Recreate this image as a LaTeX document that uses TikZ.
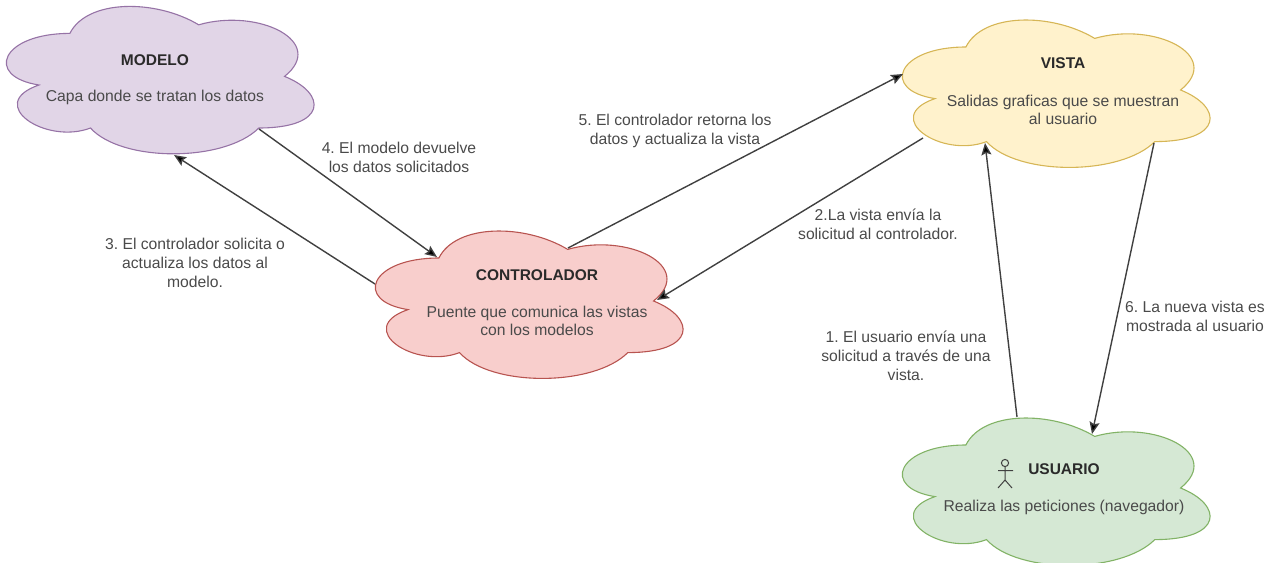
\documentclass[tikz,border=0pt]{standalone}
\usepackage{fontspec}
\setmainfont{Liberation Sans}
\frenchspacing
\usetikzlibrary{arrows.meta}
\definecolor{txt}{HTML}{2A2A2A}
\definecolor{morado}{HTML}{E1D5E7}
\definecolor{moradol}{HTML}{9673A6}
\definecolor{rojo}{HTML}{F8CECC}
\definecolor{rojol}{HTML}{B85450}
\definecolor{amarillo}{HTML}{FFF2CC}
\definecolor{amarillol}{HTML}{D6B656}
\definecolor{verde}{HTML}{D5E8D4}
\definecolor{verdel}{HTML}{82B366}
\newcommand{\nubeforma}[4]{%
  \begin{scope}[shift={(#1,#2)},x=343.5pt,y=-172pt]
    \filldraw[fill=#3,draw=#4,line width=1.1pt]
      (0.25,0.25) .. controls (0.05,0.25) and (0,0.5) .. (0.16,0.55)
      .. controls (0,0.66) and (0.18,0.9) .. (0.31,0.8)
      .. controls (0.4,1) and (0.7,1) .. (0.8,0.8)
      .. controls (1,0.8) and (1,0.6) .. (0.875,0.5)
      .. controls (1,0.3) and (0.8,0.1) .. (0.625,0.2)
      .. controls (0.5,0.05) and (0.3,0.05) .. (0.25,0.25) -- cycle;
  \end{scope}}
\tikzset{
  x=1pt,y=-1pt,
  titulo/.style={font=\fontsize{15.5}{19}\selectfont\bfseries,text=txt,inner sep=0pt},
  desc/.style={font=\fontsize{15.7}{18.5}\selectfont,text=txt!85!white,align=center,inner sep=0pt},
  etiqueta/.style={font=\fontsize{15.7}{19}\selectfont,text=txt!85!white,align=center,inner sep=0pt},
  flecha/.style={draw=black!75,line width=1.4pt,-{Stealth[length=12pt,width=10pt,inset=2pt,fill=black]}},
  actor/.style={draw=black!75,line width=1pt}
}
\begin{document}
\begin{tikzpicture}
\useasboundingbox (0,0) rectangle (1276,562);
\nubeforma{-16}{-9.6}{morado}{moradol}
\nubeforma{353}{215}{rojo}{rojol}
\nubeforma{880}{4}{amarillo}{amarillol}
\nubeforma{880}{402}{verde}{verdel}

\node[titulo] (modelo) at (155,60) {MODELO};
\node[desc] (modelod) at (155,97) {Capa donde se tratan los datos};
\node[titulo] (controlador) at (537,275) {CONTROLADOR};
\node[desc] (controladord) at (537,321) {Puente que comunica las vistas\\con los modelos};
\node[titulo] (vista) at (1063,63) {VISTA};
\node[desc] (vistad) at (1063,110) {Salidas graficas que se muestran\\al usuario};
\node[titulo] (usuario) at (1064,469) {USUARIO};
\node[desc] (usuariod) at (1064,507) {Realiza las peticiones (navegador)};

\coordinate (m-out) at (259,129);
\coordinate (m-in) at (174,155);
\coordinate (c-in4) at (437,257);
\coordinate (c-out3) at (375,284);
\coordinate (c-out5) at (568,248);
\coordinate (c-in2) at (657,300);
\coordinate (v-in5) at (903,74);
\coordinate (v-out2) at (923,138);
\coordinate (v-in1) at (985,143);
\coordinate (v-out6) at (1154,143);
\coordinate (u-out1) at (1017,417);
\coordinate (u-in6) at (1092,434);

\draw[flecha] (m-out) -- (c-in4);
\draw[flecha] (c-out3) -- (m-in);
\draw[flecha] (c-out5) -- (v-in5);
\draw[flecha] (v-out2) -- (c-in2);
\draw[flecha] (u-out1) -- (v-in1);
\draw[flecha] (v-out6) -- (u-in6);

\node[etiqueta] (l4) at (399,157) {4. El modelo devuelve\\los datos solicitados};
\node[etiqueta] (l3) at (195,263) {3. El controlador solicita o\\actualiza los datos al\\modelo.};
\node[etiqueta] (l5) at (675,131) {5. El controlador retorna los\\datos y actualiza la vista};
\node[etiqueta] (l2) at (878,224) {2.La vista envía la\\solicitud al controlador.};
\node[etiqueta] (l1) at (906,356) {1. El usuario envía una\\solicitud a través de una\\vista.};
\node[etiqueta] (l6) at (1195,316) {6. La nueva vista es\\mostrada al usuario};

\draw[actor] (1005,463) circle (3.6);
\draw[actor] (1005,466.6) -- (1005,480) (998,470.5) -- (1013,470.5)
  (998,488) -- (1005,480) -- (1012,488);
\end{tikzpicture}
\end{document}
